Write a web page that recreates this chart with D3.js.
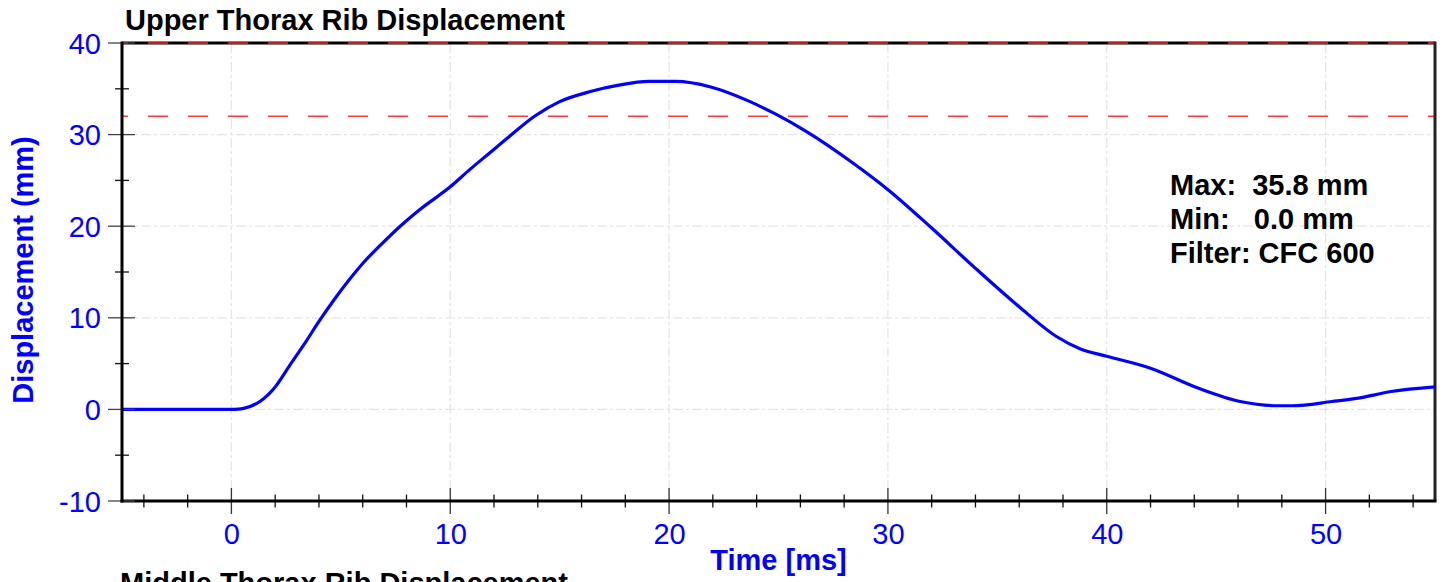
<!DOCTYPE html>
<html><head><meta charset="utf-8">
<script src="https://cdn.jsdelivr.net/npm/d3@7"></script>
<style>
html,body{margin:0;padding:0;background:#fff;}
svg{display:block;font-family:"Liberation Sans",Arial,sans-serif;}
</style></head>
<body><svg id="chart" width="1444" height="582"></svg>
<script>
const chartTitle = "Upper Thorax Rib Displacement";
const nextTitle = "Middle Thorax Rib Displacement";
const xLabel = "Time [ms]";
const yLabel = "Displacement (mm)";
const xTicks = [0, 10, 20, 30, 40, 50];
const yTicks = [-10, 0, 10, 20, 30, 40];
const limitValue = 32;
const statsLines = ["Max:  35.8 mm", "Min:   0.0 mm", "Filter: CFC 600"];
const timeMs = [-5, -1, 0, 0.3, 0.6, 1.3, 2.0, 2.65, 3.35, 4.0, 4.7, 5.4, 6.1, 6.8, 7.7, 8.6, 10.0, 10.9, 11.8, 12.7, 13.85, 15.0, 16.4, 17.7, 19.1, 20.3, 21.9, 23.7, 24.9, 26.3, 28.4, 30.1, 32.0, 34.0, 36.0, 37.7, 38.8, 40.0, 42.0, 44.2, 46.1, 47.8, 48.5, 50.3, 51.5, 53.0, 55.0];
const displacement = [0, 0, 0, 0.02, 0.14, 0.86, 2.45, 4.75, 7.2, 9.6, 12.0, 14.2, 16.2, 17.9, 19.97, 21.8, 24.3, 26.2, 28.0, 29.8, 32.0, 33.6, 34.7, 35.4, 35.8, 35.8, 35.2, 33.6, 32.2, 30.3, 26.9, 23.8, 19.8, 15.4, 11.2, 7.96, 6.6, 5.8, 4.5, 2.3, 0.86, 0.4, 0.4, 0.86, 1.23, 1.95, 2.45];

const L = 122, R = 1435, T = 43, B = 501;
const FS = 29;
const svg = d3.select("#chart");
const x = d3.scaleLinear().domain([-5, 55]).range([L, R]);
const y = d3.scaleLinear().domain([-10, 40]).range([B, T]);
const blue = "#0000ff";
const fmt = d => String(d);

// grid
const grid = svg.append("g");
grid.selectAll("line.gx").data(xTicks).join("line")
  .attr("x1", d => x(d)).attr("x2", d => x(d)).attr("y1", T).attr("y2", B)
  .attr("stroke", "#e6e6e6").attr("stroke-width", 1.3).attr("stroke-dasharray", "10,3,3,3");
grid.selectAll("line.gy").data(yTicks).join("line")
  .attr("y1", d => y(d)).attr("y2", d => y(d)).attr("x1", L).attr("x2", R)
  .attr("stroke", "#e6e6e6").attr("stroke-width", 1.3).attr("stroke-dasharray", "10,3,3,3");

// red limit line
svg.append("line").attr("x1", L).attr("x2", R).attr("y1", y(limitValue)).attr("y2", y(limitValue))
  .attr("stroke", "#ff3b3b").attr("stroke-width", 1.5).attr("stroke-dasharray", "20,20").attr("stroke-dashoffset", 14);

// frame (top & right)
svg.append("line").attr("x1", L).attr("x2", R).attr("y1", T).attr("y2", T).attr("stroke", "#000").attr("stroke-width", 3);
svg.append("line").attr("x1", L).attr("x2", R).attr("y1", T).attr("y2", T)
  .attr("stroke", "#ff2a2a").attr("stroke-width", 1.5).attr("stroke-dasharray", "20,20").attr("stroke-dashoffset", 14);
svg.append("line").attr("x1", R).attr("x2", R).attr("y1", T - 1.5).attr("y2", B).attr("stroke", "#222").attr("stroke-width", 3);

// data line
const line = d3.line().x((d, i) => x(timeMs[i])).y(d => y(d)).curve(d3.curveMonotoneX);
svg.append("path").datum(displacement).attr("d", line)
  .attr("fill", "none").attr("stroke", blue).attr("stroke-width", 3.2);

// x axis
const xAxis = d3.axisBottom(x).tickValues(xTicks).tickSize(0).tickPadding(22).tickFormat(fmt);
const gx = svg.append("g").attr("transform", `translate(0,${B})`).call(xAxis);
gx.select(".domain").remove();
gx.selectAll("text").attr("fill", blue).attr("font-size", FS).attr("font-family", "Liberation Sans, Arial, sans-serif");
const xMinor = d3.range(-4, 55, 2).filter(d => d % 10 !== 0);
svg.append("g").selectAll("line").data(xMinor).join("line")
  .attr("x1", d => x(d)).attr("x2", d => x(d)).attr("y1", B - 6.5).attr("y2", B + 6.5)
  .attr("stroke", "#111").attr("stroke-width", 1.3);
svg.append("g").selectAll("line").data(xTicks).join("line")
  .attr("x1", d => x(d)).attr("x2", d => x(d)).attr("y1", B - 13).attr("y2", B + 13)
  .attr("stroke", "#333").attr("stroke-width", 1.3);
svg.append("line").attr("x1", L - 1.5).attr("x2", R + 1.5).attr("y1", B).attr("y2", B).attr("stroke", "#000").attr("stroke-width", 3);

// y axis
const yAxis = d3.axisLeft(y).tickValues(yTicks).tickSize(0).tickPadding(21).tickFormat(fmt);
const gy = svg.append("g").attr("transform", `translate(${L},0)`).call(yAxis);
gy.select(".domain").remove();
gy.selectAll("text").attr("fill", blue).attr("font-size", FS).attr("dy", "0.35em").attr("font-family", "Liberation Sans, Arial, sans-serif");
const yMinor = d3.range(-5, 40, 10);
svg.append("g").selectAll("line").data(yMinor).join("line")
  .attr("y1", d => y(d)).attr("y2", d => y(d)).attr("x1", L - 7).attr("x2", L + 7)
  .attr("stroke", "#111").attr("stroke-width", 1.3);
svg.append("g").selectAll("line").data(yTicks).join("line")
  .attr("y1", d => y(d)).attr("y2", d => y(d)).attr("x1", L - 14).attr("x2", L + 13)
  .attr("stroke", "#444").attr("stroke-width", 1.3);
svg.append("line").attr("x1", L).attr("x2", L).attr("y1", T - 1.5).attr("y2", B + 1.5).attr("stroke", "#000").attr("stroke-width", 3);

// titles
svg.append("text").attr("x", 125).attr("y", 30).attr("font-size", FS).attr("font-weight", "bold").attr("fill", "#000").text(chartTitle);
svg.append("text").attr("x", 120).attr("y", 593).attr("font-size", FS).attr("font-weight", "bold").attr("fill", "#000").text(nextTitle);
svg.append("text").attr("x", (L + R) / 2).attr("y", 570).attr("text-anchor", "middle")
  .attr("font-size", FS).attr("font-weight", "bold").attr("fill", blue).text(xLabel);
svg.append("text").attr("transform", `translate(33,${(T + B) / 2 - 2}) rotate(-90)`).attr("text-anchor", "middle")
  .attr("font-size", FS).attr("font-weight", "bold").attr("fill", blue).text(yLabel);

// stats
svg.append("g").selectAll("text").data(statsLines).join("text")
  .attr("x", 1170).attr("y", (d, i) => 195 + i * 34).attr("font-size", FS).attr("font-weight", "bold")
  .attr("fill", "#000").attr("xml:space", "preserve").style("white-space", "pre").text(d => d);
</script></body></html>
